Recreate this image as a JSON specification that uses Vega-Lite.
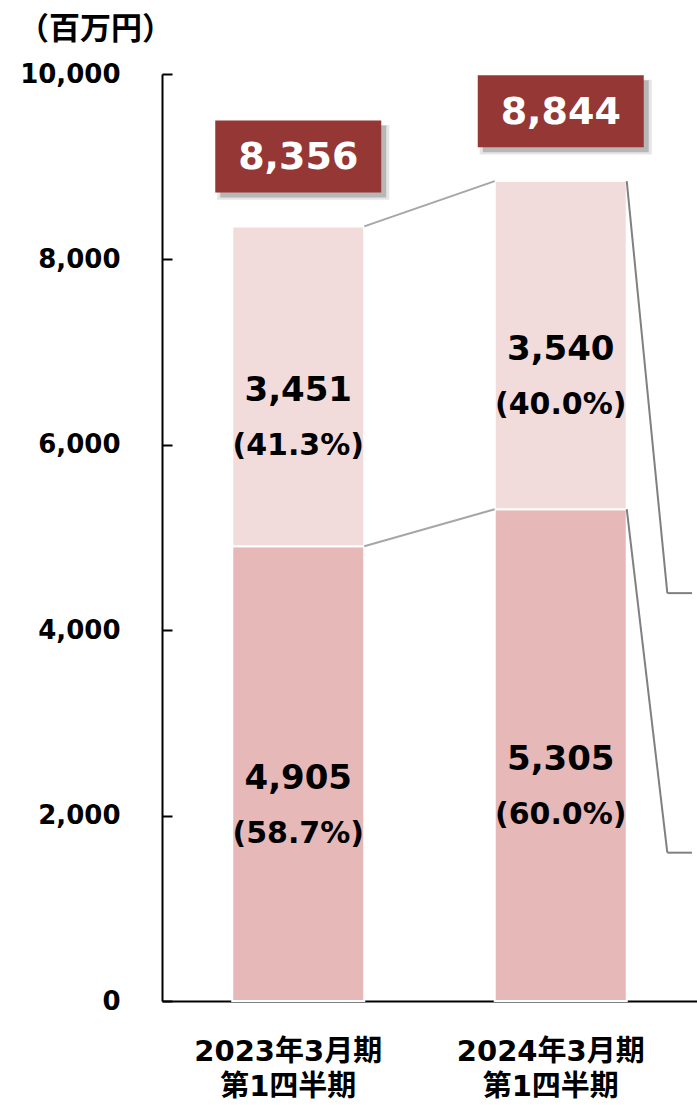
{
  "$schema": "https://vega.github.io/schema/vega-lite/v6.json",
  "width": 535,
  "height": 927,
  "autosize": {"type": "none"},
  "padding": {"left": 162, "top": 74, "right": 0, "bottom": 104},
  "background": "white",
  "config": {"view": {"stroke": null}},
  "datasets": {
    "seg": [
      {"idx": 1, "part": "lower", "order": 1, "value": 4905, "pct": "(58.7%)"},
      {"idx": 1, "part": "upper", "order": 2, "value": 3451, "pct": "(41.3%)"},
      {"idx": 2, "part": "lower", "order": 1, "value": 5305, "pct": "(60.0%)"},
      {"idx": 2, "part": "upper", "order": 2, "value": 3540, "pct": "(40.0%)"}
    ],
    "total": [
      {"idx": 1, "period": "2023年3月期\n第1四半期", "total": 8356},
      {"idx": 2, "period": "2024年3月期\n第1四半期", "total": 8844}
    ],
    "link": [
      {"x": 1, "x2": 2, "y": 8356, "y2": 8844},
      {"x": 1, "x2": 2, "y": 4905, "y2": 5305}
    ],
    "out": [
      {"x": 2, "x2": 2.406, "y": 8844, "y2": 4400},
      {"x": 2, "x2": 2.406, "y": 5305, "y2": 1600}
    ],
    "outh": [
      {"x": 2.406, "x2": 2.5, "y": 4400},
      {"x": 2.406, "x2": 2.5, "y": 1600}
    ]
  },
  "layer": [
    {
      "data": {"name": "seg"},
      "transform": [
        {"stack": "value", "groupby": ["idx"], "sort": [{"field": "order", "order": "ascending"}], "as": ["v0", "v1"]}
      ],
      "layer": [
        {
          "mark": {"type": "bar", "size": 132, "stroke": "white", "strokeWidth": 2},
          "encoding": {
            "x": {
              "field": "idx", "type": "quantitative",
              "scale": {"domain": [0.5, 2.5], "nice": false, "zero": false},
              "axis": {"title": null, "labels": false, "ticks": false, "grid": false, "domainColor": "#000000", "domainWidth": 2}
            },
            "y": {
              "field": "v0", "type": "quantitative",
              "scale": {"domain": [0, 10000], "nice": false},
              "axis": {
                "title": "（百万円）", "titleAngle": 0, "titleAlign": "center", "titleBaseline": "middle",
                "titleX": -67, "titleY": -45, "titleFont": "Noto Sans CJK JP", "titleFontSize": 31, "titleFontWeight": "bold", "titleColor": "#000000",
                "values": [0, 2000, 4000, 6000, 8000, 10000], "format": ",d",
                "labelFont": "DejaVu Sans", "labelFontSize": 26, "labelFontWeight": "bold", "labelColor": "#000000",
                "labelPadding": 52, "tickSize": -10, "tickColor": "#000000", "tickWidth": 2,
                "domainColor": "#000000", "domainWidth": 2, "grid": false
              }
            },
            "y2": {"field": "v1"},
            "color": {"field": "part", "type": "nominal", "scale": {"domain": ["lower", "upper"], "range": ["#E6B8B7", "#F2DCDB"]}, "legend": null}
          }
        },
        {
          "transform": [
            {"fold": ["v0", "v1"], "as": ["edge", "pos"]},
            {"aggregate": [{"op": "mean", "field": "pos", "as": "mid"}], "groupby": ["idx", "part", "value", "pct"]}
          ],
          "layer": [
            {
              "mark": {"type": "text", "font": "DejaVu Sans", "fontSize": 34, "fontWeight": "bold", "color": "#000000", "baseline": "middle", "align": "center", "yOffset": 5},
              "encoding": {
                "x": {"field": "idx", "type": "quantitative"},
                "y": {"field": "mid", "type": "quantitative"},
                "text": {"field": "value", "type": "quantitative", "format": ",d"}
              }
            },
            {
              "mark": {"type": "text", "font": "DejaVu Sans", "fontSize": 30, "fontWeight": "bold", "color": "#000000", "baseline": "middle", "align": "center", "yOffset": 60},
              "encoding": {
                "x": {"field": "idx", "type": "quantitative"},
                "y": {"field": "mid", "type": "quantitative"},
                "text": {"field": "pct", "type": "nominal"}
              }
            }
          ]
        }
      ]
    },
    {
      "data": {"name": "link"},
      "mark": {"type": "rule", "color": "#A6A6A6", "strokeWidth": 2, "xOffset": 66, "x2Offset": -66},
      "encoding": {
        "x": {"field": "x", "type": "quantitative"},
        "x2": {"field": "x2"},
        "y": {"field": "y", "type": "quantitative"},
        "y2": {"field": "y2"}
      }
    },
    {
      "data": {"name": "out"},
      "mark": {"type": "rule", "color": "#808080", "strokeWidth": 2, "xOffset": 66},
      "encoding": {
        "x": {"field": "x", "type": "quantitative"},
        "x2": {"field": "x2"},
        "y": {"field": "y", "type": "quantitative"},
        "y2": {"field": "y2"}
      }
    },
    {
      "data": {"name": "outh"},
      "mark": {"type": "rule", "color": "#808080", "strokeWidth": 2},
      "encoding": {
        "x": {"field": "x", "type": "quantitative"},
        "x2": {"field": "x2"},
        "y": {"field": "y", "type": "quantitative"}
      }
    },
    {
      "data": {"name": "total"},
      "layer": [
        {
          "mark": {"type": "point", "shape": "M-1,-0.4337L1,-0.4337L1,0.4337L-1,0.4337Z", "size": 29600, "filled": true, "color": "#000000", "opacity": 0.1, "strokeWidth": 0, "xOffset": 5, "yOffset": -64},
          "encoding": {
            "x": {"field": "idx", "type": "quantitative"},
            "y": {"field": "total", "type": "quantitative"}
          }
        },
        {
          "mark": {"type": "point", "shape": "M-1,-0.4337L1,-0.4337L1,0.4337L-1,0.4337Z", "size": 27556, "filled": true, "color": "#000000", "opacity": 0.2, "strokeWidth": 0, "xOffset": 5, "yOffset": -65},
          "encoding": {
            "x": {"field": "idx", "type": "quantitative"},
            "y": {"field": "total", "type": "quantitative"}
          }
        },
        {
          "mark": {"type": "point", "shape": "M-1,-0.4337L1,-0.4337L1,0.4337L-1,0.4337Z", "size": 27556, "filled": true, "color": "#953735", "opacity": 1, "strokeWidth": 0, "yOffset": -70},
          "encoding": {
            "x": {"field": "idx", "type": "quantitative"},
            "y": {"field": "total", "type": "quantitative"}
          }
        },
        {
          "mark": {"type": "text", "font": "DejaVu Sans", "fontSize": 38, "fontWeight": "bold", "color": "#FFFFFF", "baseline": "middle", "align": "center", "yOffset": -68},
          "encoding": {
            "x": {"field": "idx", "type": "quantitative"},
            "y": {"field": "total", "type": "quantitative"},
            "text": {"field": "total", "type": "quantitative", "format": ",d"}
          }
        },
        {
          "mark": {"type": "text", "font": "DejaVu Sans, Noto Sans CJK JP", "fontSize": 29, "fontWeight": "bold", "color": "#000000", "baseline": "top", "align": "center", "lineBreak": "\n", "lineHeight": 35, "dx": -10, "yOffset": 37},
          "encoding": {
            "x": {"field": "idx", "type": "quantitative"},
            "y": {"datum": 0, "type": "quantitative"},
            "text": {"field": "period", "type": "nominal"}
          }
        }
      ]
    }
  ]
}
